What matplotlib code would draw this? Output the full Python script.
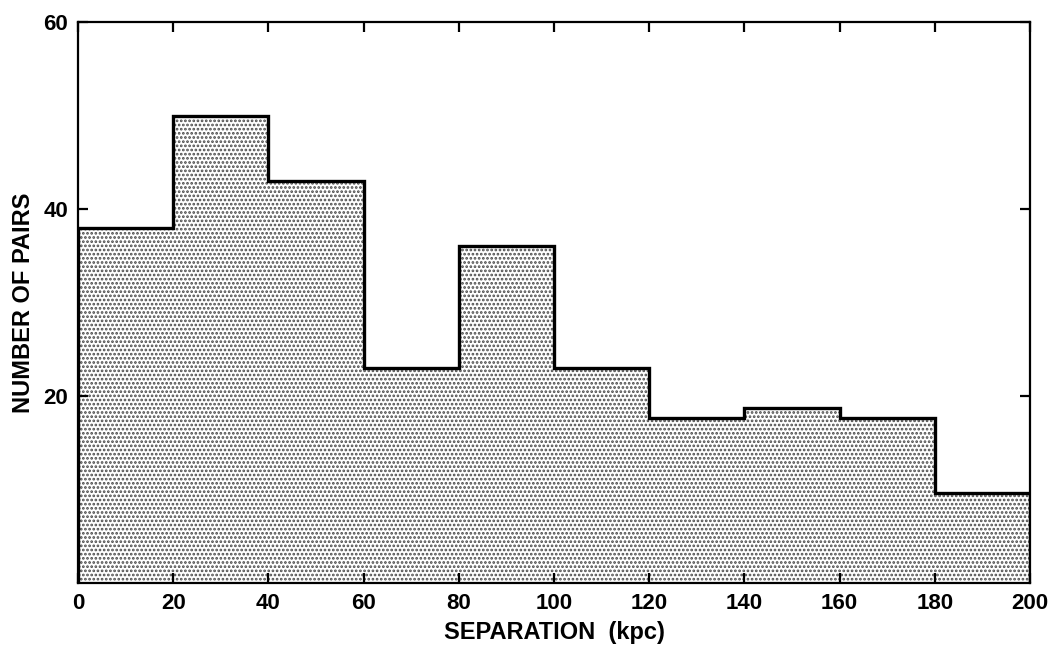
import numpy as np
import matplotlib
matplotlib.use("Agg")
import matplotlib.pyplot as plt

# separation bins (kpc) and pair counts per bin
bin_edges = [0, 20, 40, 60, 80, 100, 120, 140, 160, 180, 200]
pair_counts = [38, 50, 43, 23, 36, 23, 17.7, 18.7, 17.6, 9.6]

x_ticks = [0, 20, 40, 60, 80, 100, 120, 140, 160, 180, 200]
y_ticks = [20, 40, 60]

plt.rcParams.update({
    "font.family": "Liberation Sans",
    "font.weight": "bold",
    "axes.labelweight": "bold",
    "hatch.linewidth": 1.3,
    "hatch.color": "#4a4a4a",
})

fig = plt.figure(figsize=(10.5, 6.48), dpi=100)
ax = fig.add_axes([0.0743, 0.1003, 0.9067, 0.8657])

# stippled fill under the histogram
ax.stairs(pair_counts, bin_edges, fill=True, facecolor="white",
          hatch="....", edgecolor="#4a4a4a", linewidth=0)
# heavy step outline
ax.stairs(pair_counts, bin_edges, color="black", linewidth=2.4)

ax.set_xlim(0, 200)
ax.set_ylim(0, 60)
ax.set_xticks(x_ticks)
ax.set_yticks(y_ticks)
ax.tick_params(direction="in", length=7, width=1.6, labelsize=16,
               top=True, right=True, pad=7)
for s in ax.spines.values():
    s.set_linewidth(1.6)

ax.set_xlabel("SEPARATION  (kpc)", fontsize=17, labelpad=5)
ax.set_ylabel("NUMBER OF PAIRS", fontsize=17, labelpad=6)

fig.savefig("out.png", dpi=100)
